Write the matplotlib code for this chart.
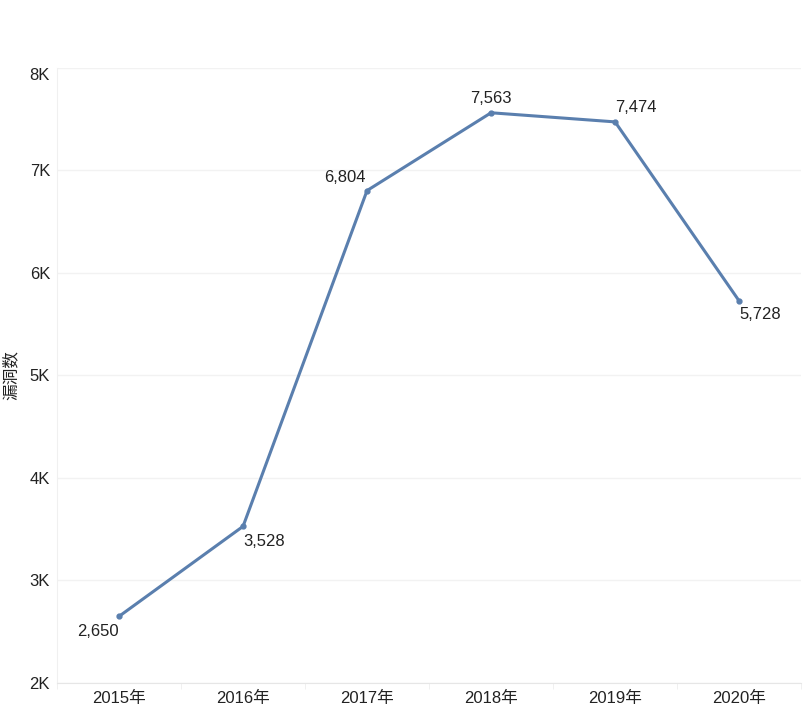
import matplotlib
matplotlib.use("Agg")
import matplotlib.pyplot as plt
from matplotlib.ticker import FuncFormatter

plt.rcParams['font.family'] = ['Liberation Sans', 'Noto Sans CJK SC', 'DejaVu Sans']

years = ["2015年", "2016年", "2017年", "2018年", "2019年", "2020年"]
values = [2650, 3528, 6804, 7563, 7474, 5728]
yticks = [2000, 3000, 4000, 5000, 6000, 7000, 8000]
ylabel = "漏洞数"

fig = plt.figure(figsize=(8.1, 7.2), dpi=100)
ax = fig.add_axes([0.0704, 0.0514, 0.9186, 0.8542])

x = list(range(len(years)))
ax.plot(x, values, color="#5a7fae", lw=2.2, marker="o", ms=3.5, zorder=3)

# (dx, dy, ha) in pixels
offsets = [(0, -15, "right"), (0, -15, "left"), (-1, 13, "right"),
           (0, 14, "center"), (0, 14, "left"), (0, -14, "left")]
for xi, v, (dx, dy, ha) in zip(x, values, offsets):
    ax.annotate(f"{v:,}", (xi, v), xytext=(dx, dy), textcoords="offset pixels",
                fontsize=12, color="#222222", ha=ha, va="center")

ax.set_xlim(-0.5, len(years) - 0.5)
ax.set_ylim(2000, 8000)
ax.set_yticks(yticks)
ax.yaxis.set_major_formatter(FuncFormatter(lambda v, p: f"{int(v/1000)}K"))
ax.set_xticks(x)
ax.set_xticklabels(years)
ax.set_xticks([i - 0.5 for i in range(len(years) + 1)], minor=True)
ax.tick_params(axis='x', which='major', length=0, labelsize=12, colors="#222222", pad=6)
ax.tick_params(axis='x', which='minor', length=4, color="#eeeeee")
ax.tick_params(axis='y', length=0, labelsize=12, colors="#222222", pad=5)
ax.grid(axis='y', color="#f2f2f2", lw=1)
for s in ["top", "right"]:
    ax.spines[s].set_visible(False)
ax.spines["left"].set_color("#f0f0f0")
ax.spines["bottom"].set_color("#e6e6e6")
ax.set_ylabel(ylabel, fontsize=12, color="#222222", labelpad=8)

fig.canvas.draw()
ax.get_yticklabels()[-1].set_va("top")

fig.savefig("out.png", dpi=100)
